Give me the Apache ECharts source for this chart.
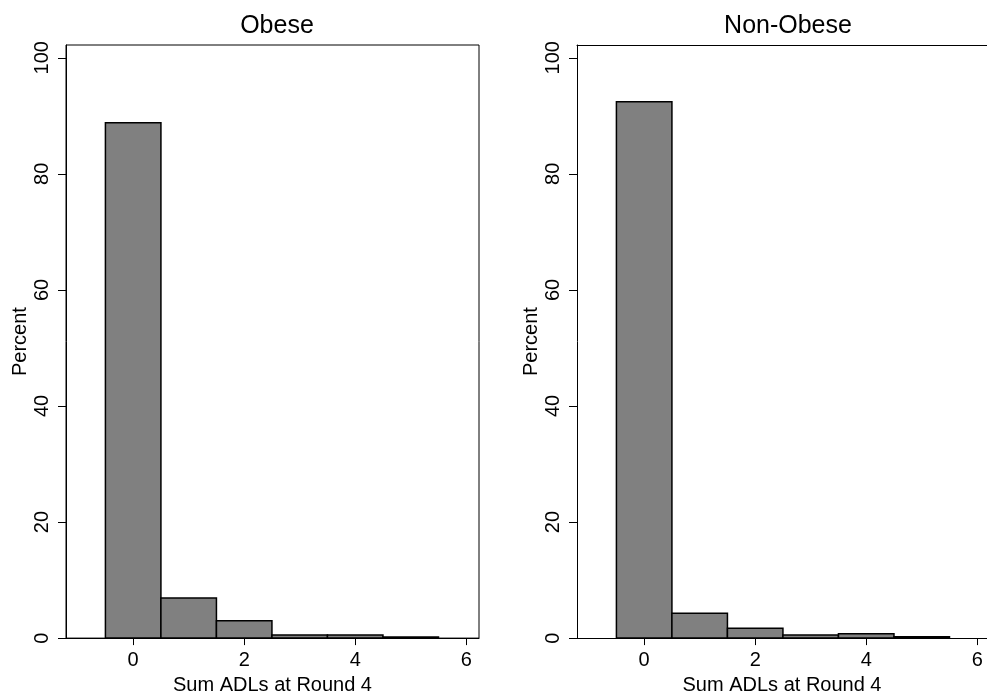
<!DOCTYPE html>
<html>
<head>
<meta charset="utf-8">
<script src="https://cdn.jsdelivr.net/npm/echarts@6/dist/echarts.min.js"></script>
<style>
  html, body { margin: 0; padding: 0; background: #fff; overflow: hidden; }
  #chart { width: 987px; height: 700px; }
</style>
</head>
<body>
<div id="chart"></div>
<script>
// Histogram bins (Sum ADLs at Round 4) and percent of respondents in each bin
const bins = [0, 1, 2, 3, 4, 5];
const obesePct = [88.8, 6.9, 3.0, 0.55, 0.55, 0.2];
const nonObesePct = [92.4, 4.3, 1.7, 0.55, 0.75, 0.25];
const panelTitles = ['Obese', 'Non-Obese'];
const xTicks = [0, 2, 4, 6];
const yTicks = [0, 20, 40, 60, 80, 100];
const xTitle = 'Sum ADLs at Round 4';
const yTitle = 'Percent';

const FONT = 'Liberation Sans, Arial, Helvetica, sans-serif';
const BIN_HALF = 0.5;
const X_MIN = -1.21;
const PX_PER_UNIT = 413 / 7.44;   // shared horizontal scale for both panels

function renderBar(params, api) {
  const x = api.value(0);
  const v = api.value(1);
  const topLeft = api.coord([x - BIN_HALF, v]);
  const bottomRight = api.coord([x + BIN_HALF, 0]);
  return {
    type: 'rect',
    shape: {
      x: topLeft[0],
      y: topLeft[1],
      width: bottomRight[0] - topLeft[0],
      height: bottomRight[1] - topLeft[1]
    },
    style: { fill: '#808080', stroke: '#000', lineWidth: 1.5 }
  };
}

// Left panel is boxed; the right panel runs to the canvas edge, so it has
// no right border (its top edge is drawn by an extra top axis line).
const grids = [
  { left: 66, top: 45, width: 413, height: 601, show: true, borderColor: '#000', borderWidth: 1 },
  { left: 577, top: 45, width: 410, height: 601, show: false }
];

function xMax(i) { return X_MIN + grids[i].width / PX_PER_UNIT; }

function xAxis(i) {
  return {
    type: 'value', gridIndex: i, min: X_MIN, max: xMax(i),
    name: xTitle, nameLocation: 'middle', nameGap: 35,
    nameTextStyle: { fontFamily: FONT, fontSize: 20, color: '#000' },
    axisLine: { show: true, onZero: false, lineStyle: { color: '#000', width: 1 } },
    axisTick: { show: true, length: 7, customValues: xTicks, lineStyle: { color: '#000' } },
    axisLabel: { customValues: xTicks, margin: 12, fontFamily: FONT, fontSize: 20, color: '#000' },
    splitLine: { show: false }
  };
}

function yAxis(i) {
  return {
    type: 'value', gridIndex: i, min: 0, max: 102.2,
    name: yTitle, nameLocation: 'middle', nameGap: 36, nameRotate: 90,
    nameTextStyle: { fontFamily: FONT, fontSize: 20, color: '#000' },
    axisLine: { show: true, onZero: false, lineStyle: { color: '#000', width: 1 } },
    axisTick: { show: true, length: 8, customValues: yTicks, lineStyle: { color: '#000' } },
    axisLabel: { customValues: yTicks, rotate: 90, margin: 14, fontFamily: FONT, fontSize: 20, color: '#000' },
    splitLine: { show: false }
  };
}

const topEdge = {
  type: 'value', gridIndex: 1, position: 'top', min: X_MIN, max: xMax(1),
  axisLine: { show: true, onZero: false, lineStyle: { color: '#000', width: 1 } },
  axisTick: { show: false }, axisLabel: { show: false }, splitLine: { show: false }
};

const option = {
  backgroundColor: '#fff',
  animation: false,
  title: [
    { text: panelTitles[0], left: 272, top: 9, textAlign: 'center',
      textStyle: { fontFamily: FONT, fontSize: 25, fontWeight: 'normal', color: '#000' } },
    { text: panelTitles[1], left: 783, top: 9, textAlign: 'center',
      textStyle: { fontFamily: FONT, fontSize: 25, fontWeight: 'normal', color: '#000' } }
  ],
  grid: grids,
  xAxis: [xAxis(0), xAxis(1), topEdge],
  yAxis: [yAxis(0), yAxis(1)],
  series: [
    { type: 'custom', xAxisIndex: 0, yAxisIndex: 0, renderItem: renderBar,
      data: bins.map((b, k) => [b, obesePct[k]]) },
    { type: 'custom', xAxisIndex: 1, yAxisIndex: 1, renderItem: renderBar,
      data: bins.map((b, k) => [b, nonObesePct[k]]) }
  ]
};

const chart = echarts.init(document.getElementById('chart'), null, { renderer: 'canvas' });
chart.setOption(option);
</script>
</body>
</html>
